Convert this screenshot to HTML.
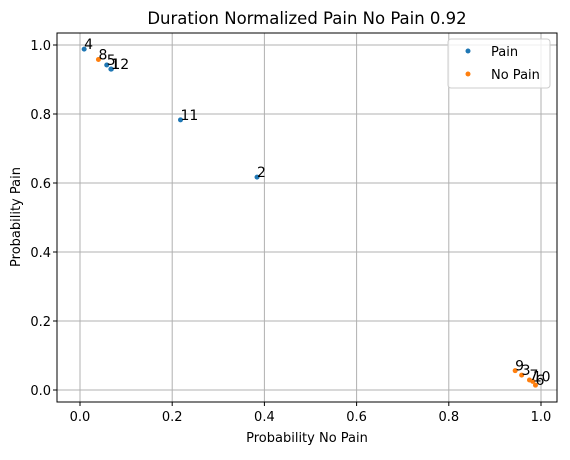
<!DOCTYPE html>
<html><head><meta charset="utf-8"><style>
body{margin:0;background:#fff;}
svg text{font-family:"DejaVu Sans","Liberation Sans",sans-serif;}
</style></head><body>
<svg id="chart" width="570" height="455" xmlns="http://www.w3.org/2000/svg">
<rect width="570" height="455" fill="#fff"/>
<g id="grid"></g><g id="ticks"></g><g id="points"></g><g id="labels"></g>
<rect x="57" y="33" width="500" height="369" fill="none" stroke="#000" stroke-width="1"/>
<text x="307" y="24" font-size="16.5" text-anchor="middle">Duration Normalized Pain No Pain 0.92</text>
<text x="307" y="442" font-size="13" text-anchor="middle">Probability No Pain</text>
<text x="20" y="217" font-size="13" text-anchor="middle" transform="rotate(-90 20 217)">Probability Pain</text>
<g>
<rect x="448" y="39" width="102" height="49" rx="3" fill="#fff" fill-opacity="0.8" stroke="#ccc"/>
<circle cx="468" cy="51" r="2.5" fill="#1f77b4"/>
<text x="491" y="56" font-size="13">Pain</text>
<circle cx="468" cy="74" r="2.5" fill="#ff7f0e"/>
<text x="491" y="79" font-size="13">No Pain</text>
</g>
</svg>
<script>
const painLabels=["4","5","1","12","11","2"];
const painX=[0.009,0.058,0.067,0.068,0.218,0.384];
const painY=[0.988,0.942,0.930,0.930,0.783,0.617];
const noPainLabels=["8","9","3","7","10","6"];
const noPainX=[0.040,0.944,0.958,0.975,0.982,0.988];
const noPainY=[0.958,0.056,0.043,0.029,0.025,0.014];
const xTicks=[0,0.2,0.4,0.6,0.8,1.0];
const yTicks=[0,0.2,0.4,0.6,0.8,1.0];
const NS="http://www.w3.org/2000/svg";
const sx=v=>80+v*461, sy=v=>390-v*345;
function mk(t,a,p){const e=document.createElementNS(NS,t);for(const k in a)e.setAttribute(k,a[k]);document.getElementById(p).appendChild(e);return e;}
xTicks.forEach(t=>{
 const g=mk('line',{x1:sx(t),x2:sx(t),y1:33,y2:402,stroke:'#b0b0b0','stroke-width':1},'grid');
 
 
 mk('line',{x1:sx(t),x2:sx(t),y1:402,y2:406,stroke:'#000'},'ticks');
 const l=mk('text',{x:sx(t),y:421,'font-size':13,'text-anchor':'middle'},'ticks');l.textContent=t.toFixed(1);
 
 
});
yTicks.forEach(t=>{
 const g=mk('line',{x1:57,x2:557,y1:sy(t),y2:sy(t),stroke:'#b0b0b0','stroke-width':1},'grid');
 
 
 mk('line',{x1:53,x2:57,y1:sy(t),y2:sy(t),stroke:'#000'},'ticks');
 const l=mk('text',{x:51,y:sy(t)+5,'font-size':13,'text-anchor':'end'},'ticks');l.textContent=t.toFixed(1);
 
 
});
function series(X,Y,L,col,name){
 X.forEach((x,i)=>{
  const c=mk('circle',{cx:sx(x),cy:sy(Y[i]),r:2.5,fill:col},'points');
  
  
  const t=mk('text',{x:sx(x),y:sy(Y[i]),'font-size':14},'labels');t.textContent=L[i];
  
  
 });
}
series(painX,painY,painLabels,'#1f77b4','pain');
series(noPainX,noPainY,noPainLabels,'#ff7f0e','no-pain');
</script>
</body></html>
